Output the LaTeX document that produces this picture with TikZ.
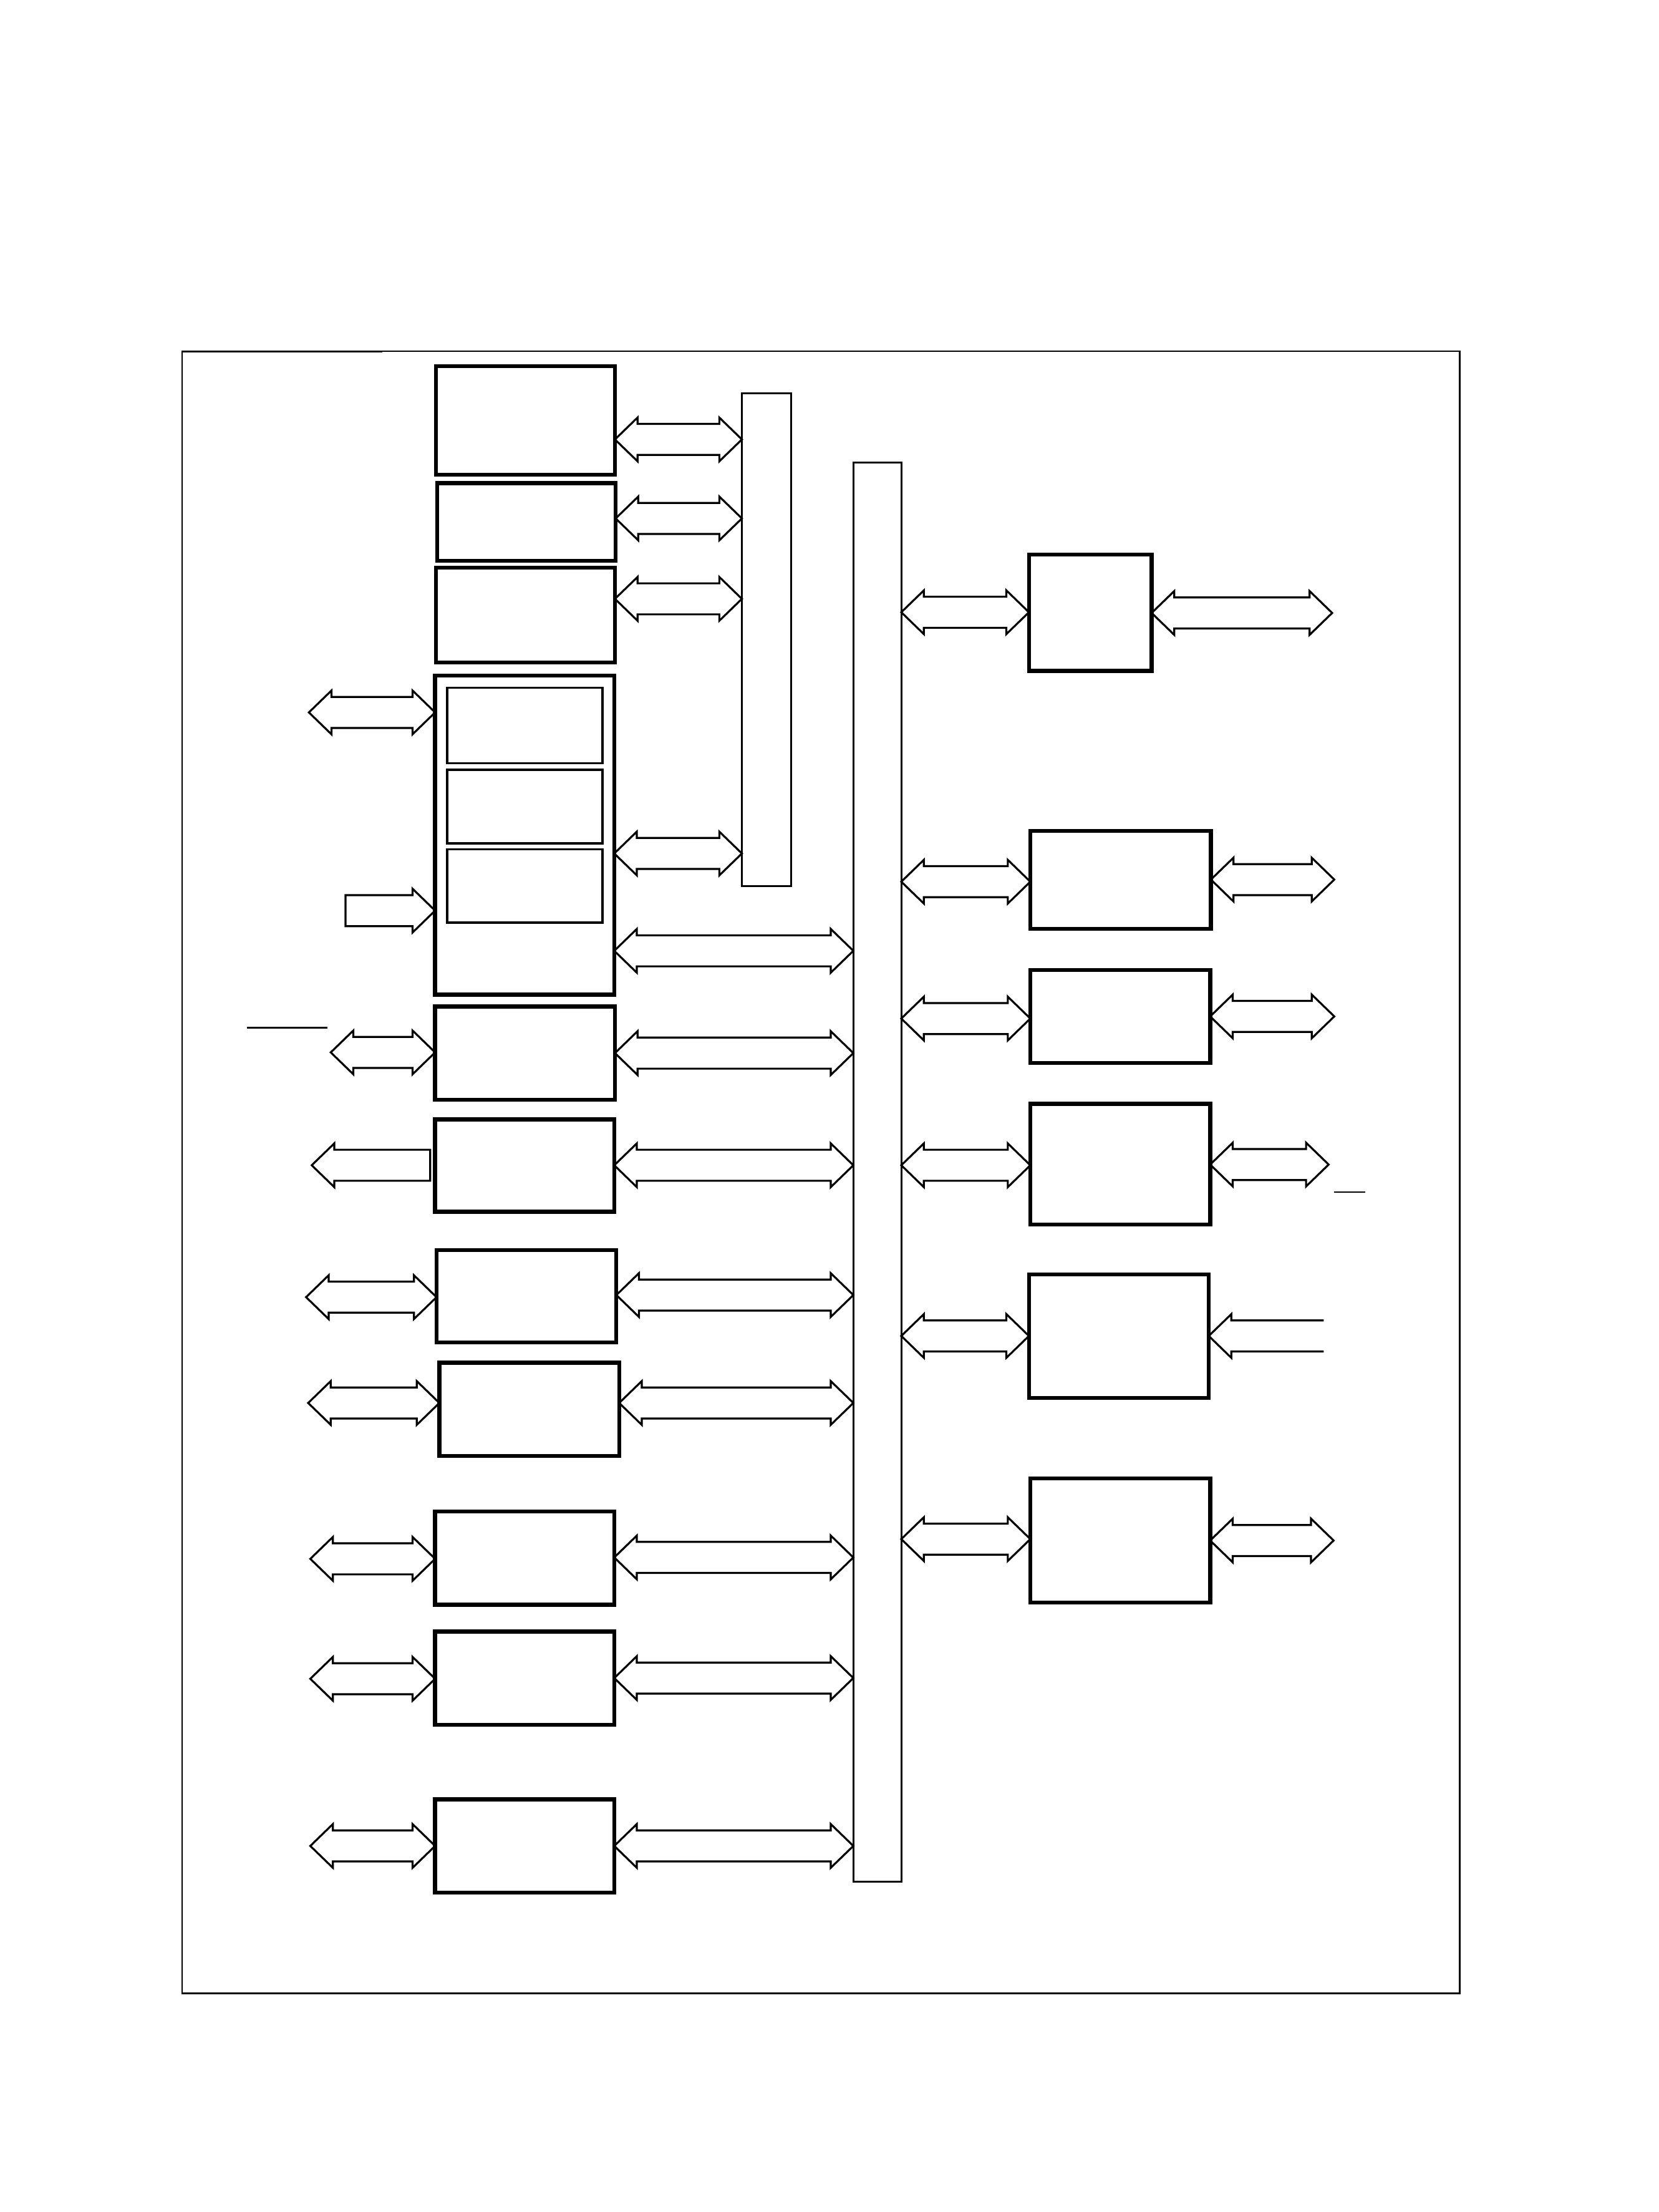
\documentclass[tikz,border=0pt]{standalone}
\usetikzlibrary{calc,fit}
\newcommand{\tiplen}{3.2mm}
\newcommand{\tipwid}{3.1mm}
\newcommand{\shaftwid}{2.2mm}
\newcommand{\bidir}[2]{%
  \draw[barrow] let \p1=#1, \p2=#2 in
    (\x1,\y1) -- (\x1+\tiplen,\y1+\tipwid) -- (\x1+\tiplen,\y1+\shaftwid)
    -- (\x2-\tiplen,\y1+\shaftwid) -- (\x2-\tiplen,\y1+\tipwid) -- (\x2,\y1)
    -- (\x2-\tiplen,\y1-\tipwid) -- (\x2-\tiplen,\y1-\shaftwid)
    -- (\x1+\tiplen,\y1-\shaftwid) -- (\x1+\tiplen,\y1-\tipwid) -- cycle;}
\newcommand{\onearrow}[3][-- cycle]{%
  \draw[barrow] let \p1=#2, \p2=#3, \p3=($(\x2,\y1)!\tiplen!(\x1,\y1)$) in
    (\x1,\y1+\shaftwid) -- (\x3,\y1+\shaftwid) -- (\x3,\y1+\tipwid) -- (\x2,\y1)
    -- (\x3,\y1-\tipwid) -- (\x3,\y1-\shaftwid) -- (\x1,\y1-\shaftwid) #1;}
\tikzset{
  blk/.style={draw, line width=1.6pt, inner sep=0pt, outer sep=0pt},
  subblk/.style={draw, line width=0.95pt, inner sep=0pt, outer sep=0pt},
  busbar/.style={draw, line width=0.75pt, inner sep=0pt, outer sep=0pt},
  barrow/.style={line width=0.8pt, line join=miter},
  frame/.style={line width=0.6pt}
}
\begin{document}
\begin{tikzpicture}[x=0.2mm,y=-0.2mm]
\useasboundingbox (0,0) rectangle (1176,1568);
\draw[frame] (129,249) rectangle (1035,1413);
\draw[line width=0.75pt] (129,249) -- (271,249);

\node[busbar, fit={(526,279) (561,628)}] (nbus) {};
\node[busbar, fit={(605,328) (639,1334)}] (bus) {};

\node[blk, fit={(309,259.5) (436,336.5)}] (b1) {};
\node[blk, fit={(310,342.5) (436.5,397.5)}] (b2) {};
\node[blk, fit={(309,402.5) (436,469.5)}] (b3) {};
\node[blk, fit={(308.5,479) (435.5,705)}] (b4) {};
\node[subblk, fit={(317,487.5) (427,541)}] (sub1) {};
\node[subblk, fit={(317,545.5) (427,598)}] (sub2) {};
\node[subblk, fit={(317,602) (427,654)}] (sub3) {};
\node[blk, fit={(308.5,713.5) (436,779.5)}] (b5) {};
\node[blk, fit={(308.5,793.5) (435.5,859)}] (b6) {};
\node[blk, fit={(309.5,886) (437,951.5)}] (b7) {};
\node[blk, fit={(311.5,966) (439,1032)}] (b8) {};
\node[blk, fit={(308.5,1071.5) (435.5,1137.5)}] (b9) {};
\node[blk, fit={(308.5,1156.5) (435.5,1222.5)}] (b10) {};
\node[blk, fit={(308.5,1275.5) (435.5,1341.5)}] (b11) {};

\node[blk, fit={(729.5,393) (816.5,475.5)}] (r1) {};
\node[blk, fit={(730.5,589) (858.5,658.5)}] (r2) {};
\node[blk, fit={(730.5,687.5) (858,753.5)}] (r3) {};
\node[blk, fit={(730.5,782.5) (858,868)}] (r4) {};
\node[blk, fit={(729.5,903.5) (857,991)}] (r5) {};
\node[blk, fit={(730.5,1048) (858,1136)}] (r6) {};

\coordinate (x4) at (219,505);
\coordinate (x4in) at (245,645.5);
\coordinate (x5) at (234.5,746);
\coordinate (x6) at (221,826);
\coordinate (x6out) at (305,826);
\coordinate (x7) at (217,919.5);
\coordinate (x8) at (218.5,994.5);
\coordinate (x9) at (220,1105);
\coordinate (x10) at (220,1190);
\coordinate (x11) at (220,1308.5);
\coordinate (y1) at (944.5,434.5);
\coordinate (y2) at (946,623.5);
\coordinate (y3) at (946,720.5);
\coordinate (y4) at (942,825.5);
\coordinate (y5) at (938.5,947);
\coordinate (y6) at (945.5,1092);

\bidir{(b1.east |- 0,311.5)}{(nbus.west)}
\bidir{(b2.east |- 0,367.5)}{(nbus.west)}
\bidir{(b3.east |- 0,424.5)}{(nbus.west)}
\bidir{(b4.east |- 0,605)}{(nbus.west)}
\bidir{(b4.east |- 0,674)}{(bus.west)}
\bidir{(b5.east |- 0,746.5)}{(bus.west)}
\bidir{(b6.east |- 0,826)}{(bus.west)}
\bidir{(b7.east |- 0,918)}{(bus.west)}
\bidir{(b8.east |- 0,994.5)}{(bus.west)}
\bidir{(b9.east |- 0,1104)}{(bus.west)}
\bidir{(b10.east |- 0,1189.5)}{(bus.west)}
\bidir{(b11.east |- 0,1308.5)}{(bus.west)}

\bidir{(x4)}{(b4.west)}
\onearrow{(x4in)}{(b4.west)}
\bidir{(x5)}{(b5.west)}
\onearrow{(x6out)}{(x6)}
\bidir{(x7)}{(b7.west)}
\bidir{(x8)}{(b8.west)}
\bidir{(x9)}{(b9.west)}
\bidir{(x10)}{(b10.west)}
\bidir{(x11)}{(b11.west)}

\bidir{(bus.east |- 0,434)}{(r1.west)}
\bidir{(bus.east |- 0,625)}{(r2.west)}
\bidir{(bus.east |- 0,722)}{(r3.west)}
\bidir{(bus.east |- 0,826)}{(r4.west)}
\bidir{(bus.east |- 0,947)}{(r5.west)}
\bidir{(bus.east |- 0,1091)}{(r6.west)}

\bidir{(r1.east |- 0,434.5)}{(y1)}
\bidir{(r2.east |- 0,623.5)}{(y2)}
\bidir{(r3.east |- 0,720.5)}{(y3)}
\bidir{(r4.east |- 0,825.5)}{(y4)}
\onearrow[]{(y5)}{(r5.east)}
\bidir{(r6.east |- 0,1092)}{(y6)}

\draw[frame] (175,728.5) -- (232,728.5);
\draw[frame] (946,845) -- (968,845);
\end{tikzpicture}
\end{document}
